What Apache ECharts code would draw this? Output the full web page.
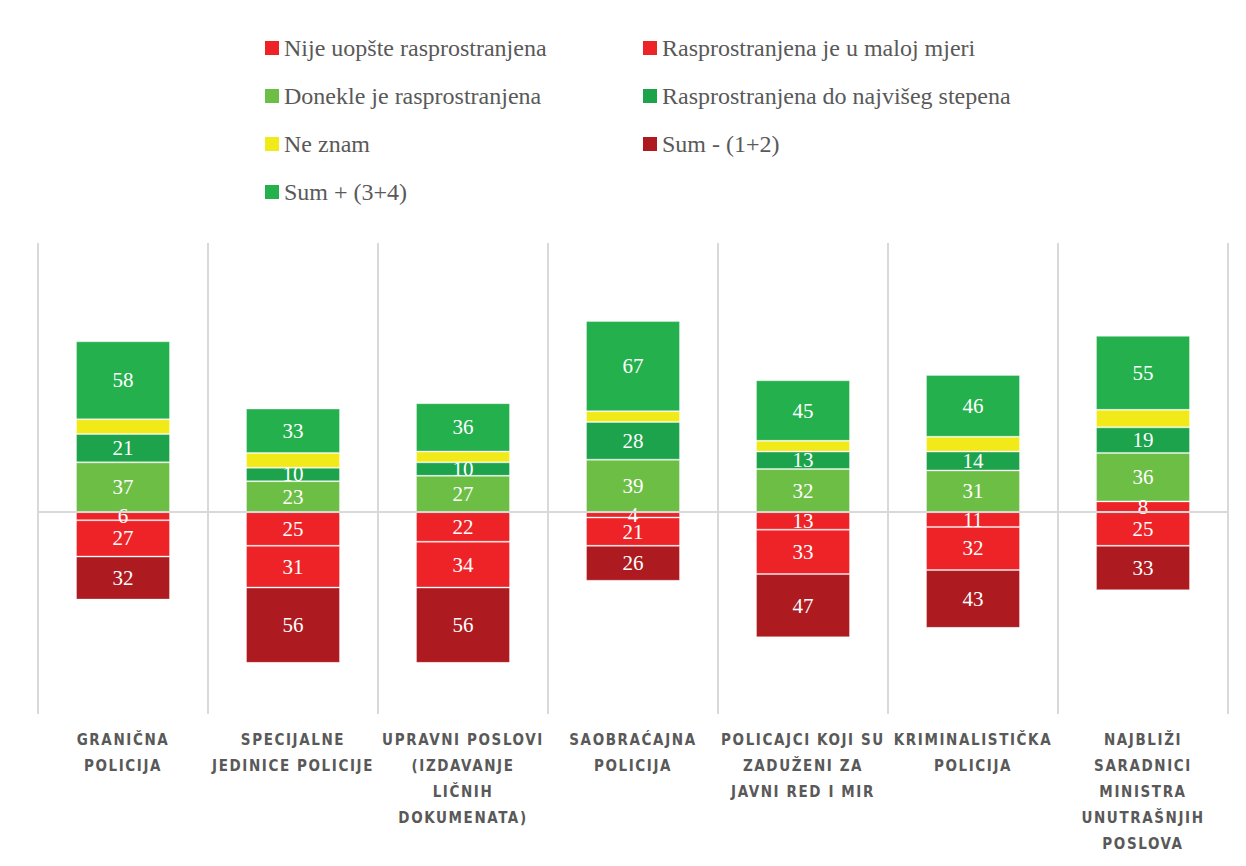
<!DOCTYPE html>
<html>
<head>
<meta charset="utf-8">
<script src="https://cdn.jsdelivr.net/npm/echarts@6/dist/echarts.min.js"></script>
<style>
html,body{margin:0;padding:0;background:#fff;}
#chart{width:1246px;height:866px;}
#chart text[style*="Condensed"]{letter-spacing:1.6px;}
</style>
</head>
<body>
<div id="chart"></div>
<script>
const categories = [
  "GRANIČNA\nPOLICIJA",
  "SPECIJALNE\nJEDINICE POLICIJE",
  "UPRAVNI POSLOVI\n(IZDAVANJE\nLIČNIH\nDOKUMENATA)",
  "SAOBRAĆAJNA\nPOLICIJA",
  "POLICAJCI KOJI SU\nZADUŽENI ZA\nJAVNI RED I MIR",
  "KRIMINALISTIČKA\nPOLICIJA",
  "NAJBLIŽI\nSARADNICI\nMINISTRA\nUNUTRAŠNJIH\nPOSLOVA"
];
const seriesNames = [
  "Nije uopšte rasprostranjena",
  "Rasprostranjena je u maloj mjeri",
  "Donekle je rasprostranjena",
  "Rasprostranjena do najvišeg stepena",
  "Ne znam",
  "Sum - (1+2)",
  "Sum + (3+4)"
];
const nijeUopste   = [-6, -25, -22, -4, -13, -11, 8];
const maloj        = [-27, -31, -34, -21, -33, -32, -25];
const donekle      = [37, 23, 27, 39, 32, 31, 36];
const najviseg     = [21, 10, 10, 28, 13, 14, 19];
const neZnam       = [11, 11, 8, 8, 8, 11, 13];
const sumMinus     = [-32, -56, -56, -26, -47, -43, -33];
const sumPlus      = [58, 33, 36, 67, 45, 46, 55];

const colors = ["#EE2328", "#EE2328", "#6DBE45", "#1CA34B", "#F2E918", "#AD1B21", "#24B14D"];
const values = [nijeUopste, maloj, donekle, najviseg, neZnam, sumMinus, sumPlus];

const labelStyle = {
  show: true,
  position: 'inside',
  color: '#ffffff',
  fontFamily: '"Liberation Serif", "DejaVu Serif", serif',
  fontSize: 21,
  formatter: p => String(Math.abs(p.value))
};

const series = values.map((arr, i) => {
  const s = {
    name: seriesNames[i],
    type: 'bar',
    stack: 'total',
    barWidth: '55.3%',
    data: arr,
    itemStyle: { color: colors[i], borderColor: 'rgba(255,255,255,0.35)', borderWidth: 1 },
    label: i === 4 ? { show: false } : labelStyle,
    emphasis: { disabled: true }
  };
  if (i === 0) {
    s.markLine = {
      silent: true,
      symbol: 'none',
      label: { show: false },
      lineStyle: { color: '#d9d9d9', width: 2, type: 'solid' },
      data: [{ yAxis: 0 }]
    };
  }
  return s;
});

const legendText = {
  fontFamily: '"Liberation Serif", "DejaVu Serif", serif',
  fontSize: 24,
  color: '#595959',
  lineHeight: 24
};

const chart = echarts.init(document.getElementById('chart'), null, { renderer: 'svg' });
chart.setOption({
  animation: false,
  backgroundColor: '#ffffff',
  legend: [
    {
      orient: 'vertical', left: 260, top: 31,
      data: [seriesNames[0], seriesNames[2], seriesNames[4], seriesNames[6]],
      icon: 'rect', itemWidth: 14, itemHeight: 14, itemGap: 24,
      itemStyle: { borderWidth: 0 },
      textStyle: legendText, selectedMode: false
    },
    {
      orient: 'vertical', left: 638, top: 31,
      data: [seriesNames[1], seriesNames[3], seriesNames[5]],
      icon: 'rect', itemWidth: 14, itemHeight: 14, itemGap: 24,
      itemStyle: { borderWidth: 0 },
      textStyle: legendText, selectedMode: false
    }
  ],
  grid: { left: 38, right: 18, top: 243, bottom: 152, containLabel: false },
  xAxis: {
    type: 'category',
    data: categories,
    axisLine: { show: false, onZero: false },
    axisTick: { show: false },
    splitLine: { show: true, lineStyle: { color: '#d9d9d9', width: 2 } },
    axisLabel: {
      interval: 0,
      margin: 13,
      color: '#595959',
      fontWeight: 'bold',
      fontSize: 15,
      lineHeight: 26,
      fontFamily: '"DejaVu Sans Condensed", "Liberation Sans Narrow", sans-serif'
    }
  },
  yAxis: {
    type: 'value',
    min: -150,
    max: 200,
    interval: 50,
    axisLine: { show: false },
    axisTick: { show: false },
    axisLabel: { show: false },
    splitLine: { show: false }
  },
  series: series
});
</script>
</body>
</html>
